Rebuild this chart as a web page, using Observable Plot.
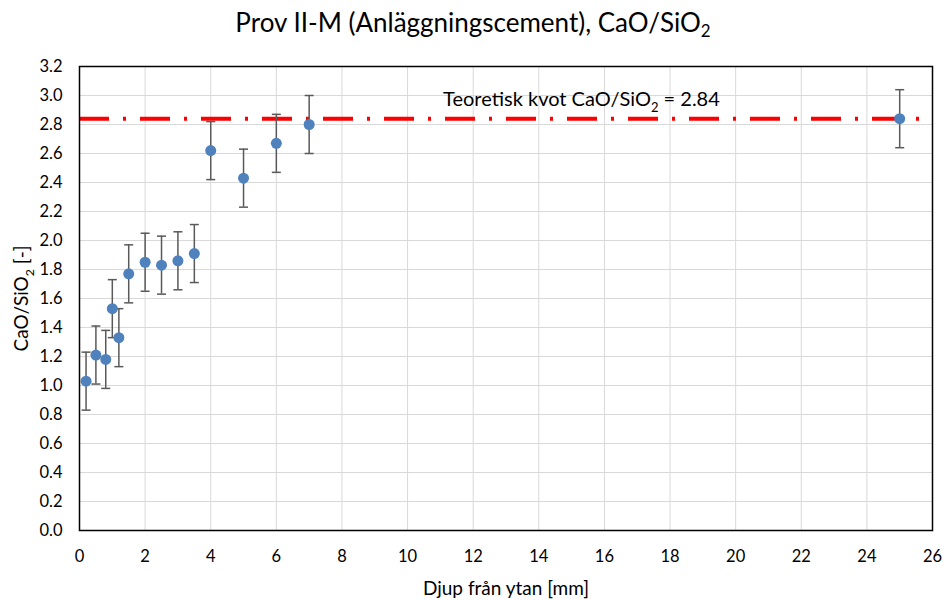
<!DOCTYPE html>
<html><head><meta charset="utf-8">
<script src="https://cdn.jsdelivr.net/npm/d3@7"></script>
<script src="https://cdn.jsdelivr.net/npm/@observablehq/plot@0.6"></script>
<style>
body{margin:0;background:#fff;font-family:Lato,sans-serif;}
#chart{width:946px;height:601px;position:relative;overflow:hidden;background:#fff;}
#title{height:48px;box-sizing:border-box;padding-top:9px;font-size:26px;line-height:26px;text-align:center;color:#000;white-space:nowrap;}
#title .sub{font-size:0.65em;position:relative;top:0.3em;}
svg{display:block;}
</style></head><body>
<div id="chart"><div id="title">Prov II-M (Anläggningscement), CaO/SiO<span class="sub">2</span></div></div>
<script>
// Data
const depth = [0.2, 0.5, 0.8, 1.0, 1.2, 1.5, 2.0, 2.5, 3.0, 3.5, 4.0, 5.0, 6.0, 7.0, 25.0];
const ratio = [1.03, 1.21, 1.18, 1.53, 1.33, 1.77, 1.85, 1.83, 1.86, 1.91, 2.62, 2.43, 2.67, 2.80, 2.84];
const errorBar = [0.2, 0.2, 0.2, 0.2, 0.2, 0.2, 0.2, 0.2, 0.2, 0.2, 0.2, 0.2, 0.2, 0.2, 0.2];
const theoreticalRatio = [2.84];
const xTicks = [0, 2, 4, 6, 8, 10, 12, 14, 16, 18, 20, 22, 24, 26];
const yTicks = [0, 0.2, 0.4, 0.6, 0.8, 1.0, 1.2, 1.4, 1.6, 1.8, 2.0, 2.2, 2.4, 2.6, 2.8, 3.0, 3.2];
const annotationText = ["Teoretisk kvot CaO/SiO2 = 2.84"];
const annotationX = [15.3];
const annotationY = [2.97];

const data = depth.map((x, i) => ({x, y: ratio[i], lo: ratio[i] - errorBar[i], hi: ratio[i] + errorBar[i]}));
const annotation = annotationText.map((t, i) => ({t, x: annotationX[i], y: annotationY[i]}));
const cap = {draw(ctx) { ctx.moveTo(-4.5, 0); ctx.lineTo(4.5, 0); }};

const plot = Plot.plot({
  width: 946, height: 553,
  marginTop: 18, marginBottom: 71, marginLeft: 79, marginRight: 14,
  style: {fontFamily: "Lato, sans-serif", fontSize: "16.5px", color: "#000", background: "#fff", overflow: "visible"},
  x: {domain: [0, 26], ticks: xTicks, label: "Djup från ytan [mm]", labelAnchor: "center", labelArrow: "none", labelOffset: 64, tickSize: 0, tickPadding: 20},
  y: {domain: [0, 3.2], ticks: yTicks, tickFormat: d3.format(".1f"), label: "CaO/SiO2 [-]", labelAnchor: "center", labelArrow: "none", labelOffset: 65, tickSize: 0, tickPadding: 17},
  marks: [
    Plot.gridX(xTicks, {stroke: "#d9d9d9", strokeOpacity: 1, strokeWidth: 1}),
    Plot.gridY(yTicks, {stroke: "#d9d9d9", strokeOpacity: 1, strokeWidth: 1}),
    Plot.ruleY(theoreticalRatio, {stroke: "#ff0000", strokeWidth: 4, strokeDasharray: "30,14,3,14"}),
    Plot.ruleX(data, {x: "x", y1: "lo", y2: "hi", stroke: "#595959", strokeWidth: 1.5}),
    Plot.dot(data, {x: "x", y: "lo", symbol: cap, fill: "none", stroke: "#595959", strokeWidth: 1.5}),
    Plot.dot(data, {x: "x", y: "hi", symbol: cap, fill: "none", stroke: "#595959", strokeWidth: 1.5}),
    Plot.dot(data, {x: "x", y: "y", r: 5.5, fill: "#4f81bd", stroke: "none"}),
    Plot.text(annotation, {x: "x", y: "y", text: "t", fontSize: 20, fill: "#000", textAnchor: "middle"}),
    Plot.frame({stroke: "#000", strokeWidth: 1.5})
  ]
});
document.getElementById("chart").appendChild(plot);

const svg = d3.select(plot);
svg.selectAll('[aria-label="x-axis label"] text, [aria-label="y-axis label"] text').attr("font-size", 19);

// render "SiO2" with a subscript 2
svg.selectAll("text").each(function() {
  const s = this.textContent;
  const i = s.indexOf("SiO2");
  if (i < 0) return;
  const fs = parseFloat(getComputedStyle(this).fontSize) || 15;
  const shift = fs * 0.3;
  while (this.firstChild) this.removeChild(this.firstChild);
  const ns = "http://www.w3.org/2000/svg";
  this.appendChild(document.createTextNode(s.slice(0, i + 3)));
  const sub = document.createElementNS(ns, "tspan");
  sub.setAttribute("dy", shift);
  sub.setAttribute("font-size", fs * 0.65);
  sub.textContent = "2";
  this.appendChild(sub);
  const rest = document.createElementNS(ns, "tspan");
  rest.setAttribute("dy", -shift);
  rest.textContent = s.slice(i + 4);
  this.appendChild(rest);
});
</script>
</body></html>
